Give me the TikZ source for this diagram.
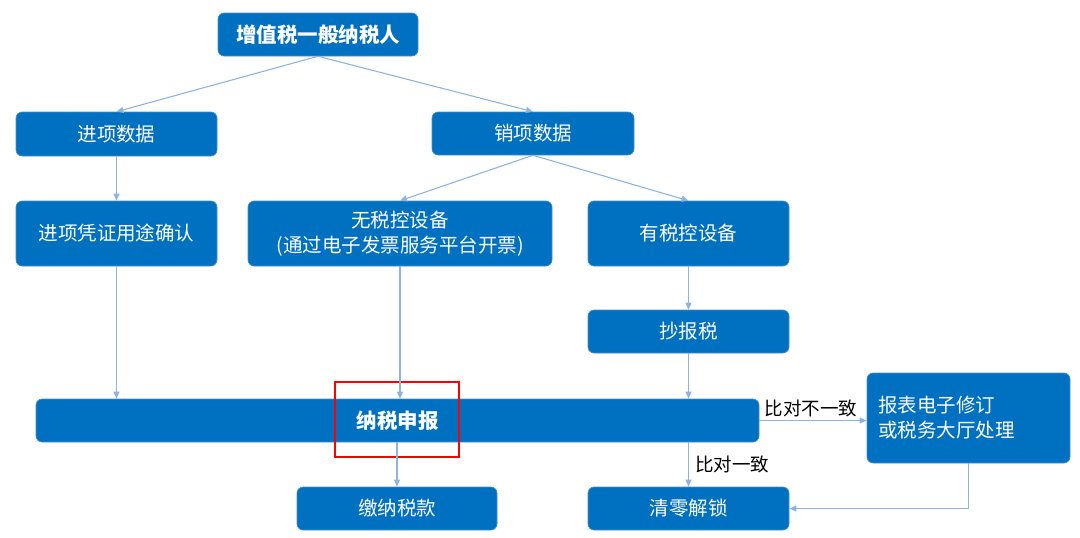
\documentclass[tikz,border=0pt]{standalone}
\usepackage{fontspec}
\setmainfont{Noto Sans CJK SC}
\usetikzlibrary{arrows.meta}
\definecolor{boxblue}{HTML}{0070C0}
\definecolor{boxedge}{HTML}{4A8FD0}
\definecolor{arrowblue}{HTML}{8DB4E2}
\tikzset{
  box/.style={rectangle, rounded corners=6pt, fill=boxblue, draw=boxedge, line width=0.6pt,
    text=white, font=\fontsize{19.5}{25}\selectfont, align=center, inner sep=2pt},
  boldbox/.style={box, font=\fontsize{20.5}{25}\selectfont\bfseries},
  conn/.style={draw=arrowblue, line width=1.1pt, -{Triangle[length=7pt,width=6pt]}},
  lbl/.style={text=black, font=\fontsize{18.5}{22}\selectfont, inner sep=1pt},
}
\begin{document}
\begin{tikzpicture}[x=1pt,y=-1pt]
\useasboundingbox (0,0) rectangle (1080,538);
\node[boldbox, minimum width=200pt, minimum height=43pt] (top) at (318,34.5) {增值税一般纳税人};
\node[box, minimum width=201pt, minimum height=44pt] (jx) at (116.5,134) {进项数据};
\node[box, minimum width=202pt, minimum height=43pt] (xx) at (533,133.5) {销项数据};
\node[box, minimum width=201pt, minimum height=65pt] (jz) at (116.5,233.5) {进项凭证用途确认};
\node[box, minimum width=304pt, minimum height=65pt] (wsk) at (400,233.5) {无税控设备\\(通过电子发票服务平台开票)};
\node[box, minimum width=201pt, minimum height=65pt] (ysk) at (688.5,233.5) {有税控设备};
\node[box, minimum width=201pt, minimum height=43pt] (cbs) at (688.5,331.5) {抄报税};
\node[boldbox, minimum width=723pt, minimum height=43pt] (sb) at (397.5,420.5) {纳税申报};
\node[box, minimum width=200pt, minimum height=43pt] (jn) at (397,508.5) {缴纳税款};
\node[box, minimum width=201pt, minimum height=43pt] (ql) at (688.5,508.5) {清零解锁};
\node[box, minimum width=203pt, minimum height=90pt, text width=181pt, align=left] (bb) at (968.5,418) {报表电子修订\\或税务大厅处理};
\node[draw=red, line width=2pt, minimum width=124pt, minimum height=75pt, inner sep=0pt] (hl) at (397,419.5) {};

\draw[conn] (top.south) -- (jx.north);
\draw[conn] (top.south) -- (xx.north);
\draw[conn] (jx.south) -- (jz.north);
\draw[conn] (xx.south) -- (wsk.north);
\draw[conn] (xx.south) -- (ysk.north);
\draw[conn] (jz.south) -- (jz.south |- sb.north);
\draw[conn] (wsk.south) -- (wsk.south |- sb.north);
\draw[conn] (ysk.south) -- (cbs.north);
\draw[conn] (cbs.south) -- (cbs.south |- sb.north);
\draw[conn] (jn.north |- sb.south) -- (jn.north);
\draw[conn] (ql.north |- sb.south) -- node[lbl, right=5pt, pos=0.5] (l1) {比对一致} (ql.north);
\draw[conn] (sb.east) -- node[lbl, above=2pt, pos=0.48] (l2) {比对不一致} (bb.west |- sb.east);
\draw[conn] (bb.south) |- (ql.east);
\end{tikzpicture}
\end{document}
